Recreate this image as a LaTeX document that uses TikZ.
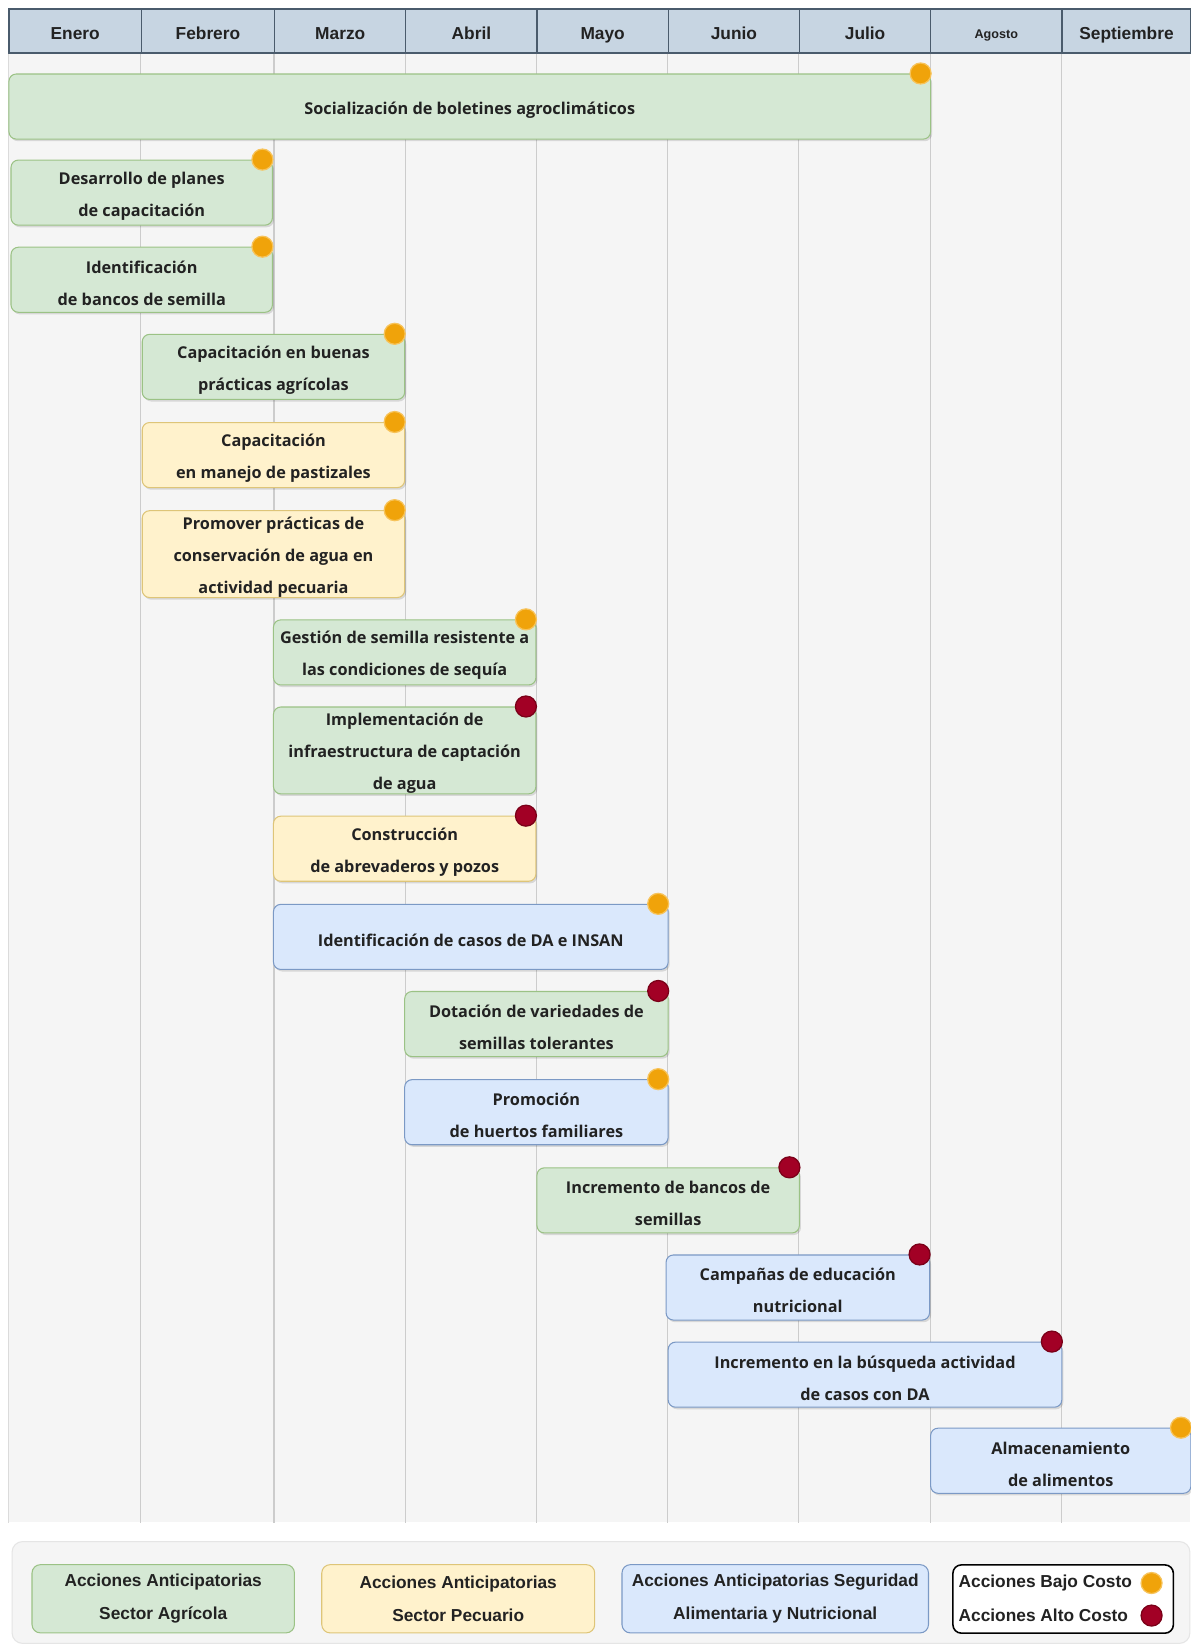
\documentclass[tikz,border=0pt]{standalone}
\usepackage{fontspec}
\setmainfont{Open Sans}
\newfontfamily\arialf{Liberation Sans}
\usetikzlibrary{shadows}
\definecolor{hdrfill}{HTML}{C7D5E2}
\definecolor{hdrline}{HTML}{4A5B6C}
\definecolor{bgc}{HTML}{F5F5F5}
\definecolor{gridc}{HTML}{CCCCCC}
\definecolor{gfill}{HTML}{D5E8D4}
\definecolor{gline}{HTML}{82B366}
\definecolor{yfill}{HTML}{FFF2CC}
\definecolor{yline}{HTML}{D6B656}
\definecolor{bfill}{HTML}{DAE8FC}
\definecolor{bline}{HTML}{6C8EBF}
\definecolor{ofill}{HTML}{F0A30A}
\definecolor{oline}{HTML}{F7C35A}
\definecolor{rfill}{HTML}{A20025}
\definecolor{rline}{HTML}{7A0018}
\definecolor{txt}{HTML}{222222}
\tikzset{
  softshadow/.style={general shadow={fill=black, opacity=0.12, shadow xshift=1.5pt, shadow yshift=-2pt}},
  taskbase/.style={rectangle, rounded corners=7pt, inner sep=0pt, align=center, text=txt,
    line width=1pt, softshadow, font=\fontsize{15.5}{30.5}\selectfont\bfseries},
  gbox/.style={taskbase, fill=gfill, draw=gline!80},
  ybox/.style={taskbase, fill=yfill, draw=yline!80},
  bbox/.style={taskbase, fill=bfill, draw=bline!90},
  lowc/.style={circle, fill=ofill, draw=oline, line width=1.2pt, minimum size=20pt, inner sep=0pt},
  highc/.style={circle, fill=rfill, draw=rline, line width=1.2pt, minimum size=20pt, inner sep=0pt},
  month/.style={rectangle, fill=hdrfill, draw=hdrline, line width=1.2pt, inner sep=0pt,
    minimum height=42pt, text height=18pt, text depth=2.5pt,
    font=\arialf\fontsize{16.5}{18}\selectfont\bfseries, text=txt},
  legbox/.style={rectangle, rounded corners=8pt, inner sep=0pt, align=center, text=txt,
    line width=1pt, minimum height=65pt, font=\arialf\fontsize{16.5}{31}\selectfont\bfseries},
  legtext/.style={anchor=west, inner sep=0pt, text=txt, font=\arialf\fontsize{16.5}{18}\selectfont\bfseries},
}
\newcommand\task[8]{%
  \node[#2, minimum width={#5-#3}, minimum height={#6-#4}, anchor=north west] (#1) at (#3,#4) {\rule{0pt}{18pt}#7};
  \node[#8] (#1dot) at ({#5-9},#4) {};}
\newcommand\mon[4]{%
  \node[month, minimum width={#3-#2}, anchor=north west] (#1) at (#2,8) {#4};}
\begin{document}
\begin{tikzpicture}[x=1pt,y=-1pt]
\useasboundingbox (0,0) rectangle (1134,1568);
\fill[white] (0,0) rectangle (1134,1568);
% chart background
\fill[bgc] (8,50) rectangle (1134,1450);
% header
\mon{m1}{8}{134}{Enero}
\mon{m2}{134}{261}{Febrero}
\mon{m3}{261}{386}{Marzo}
\mon{m4}{386}{511}{Abril}
\mon{m5}{511}{636}{Mayo}
\mon{m6}{636}{761}{Junio}
\mon{m7}{761}{886}{Julio}
\node[month, minimum width=125, anchor=north west, text height=15.5pt, text depth=2pt,
  font=\arialf\fontsize{12}{14}\selectfont\bfseries] (m8) at (886,8) {Agosto};
\mon{m9}{1011}{1134}{Septiembre}
% grid lines
\foreach \m in {m2,m3,m4,m5,m6,m7,m8,m9}
  \draw[gridc, line width=1pt] (\m.south west) -- ++(0,1400);
\draw[gridc!70, line width=0.8pt] (m1.south west) -- ++(0,1400);
% tasks
\task{t1}{gbox}{8}{70}{886}{132}{Socialización de boletines agroclimáticos}{lowc}
\task{t2}{gbox}{10}{152}{259}{214}{Desarrollo de planes\\de capacitación}{lowc}
\task{t3}{gbox}{10}{235}{259}{297}{Identificación\\de bancos de semilla}{lowc}
\task{t4}{gbox}{135}{318}{385}{380}{Capacitación en buenas\\prácticas agrícolas}{lowc}
\task{t5}{ybox}{135}{402}{385}{464}{Capacitación\\en manejo de pastizales}{lowc}
\task{t6}{ybox}{135}{486}{385}{568}{Promover prácticas de\\conservación de agua en\\actividad pecuaria}{lowc}
\task{t7}{gbox}{260}{590}{510}{652}{Gestión de semilla resistente a\\las condiciones de sequía}{lowc}
\task{t8}{gbox}{260}{673}{510}{755}{Implementación de\\infraestructura de captación\\de agua}{highc}
\task{t9}{ybox}{260}{777}{510}{839}{Construcción\\de abrevaderos y pozos}{highc}
\task{t10}{bbox}{260}{861}{636}{923}{Identificación de casos de DA e INSAN}{lowc}
\task{t11}{gbox}{385}{944}{636}{1006}{Dotación de variedades de\\semillas tolerantes}{highc}
\task{t12}{bbox}{385}{1028}{636}{1090}{Promoción\\de huertos familiares}{lowc}
\task{t13}{gbox}{511}{1112}{761}{1174}{Incremento de bancos de\\semillas}{highc}
\task{t14}{bbox}{634}{1195}{885}{1257}{Campañas de educación\\nutricional}{highc}
\task{t15}{bbox}{636}{1278}{1011}{1340}{Incremento en la búsqueda actividad\\de casos con DA}{highc}
\task{t16}{bbox}{886}{1360}{1134}{1422}{Almacenamiento\\de alimentos}{lowc}
% legend
\node[rectangle, rounded corners=10pt, fill=bgc, draw=black!10, line width=1pt,
  minimum width=1122, minimum height=97, anchor=north west, inner sep=0pt] (legend) at (11,1468) {};
\node[legbox, fill=gfill, draw=gline!80, minimum width=250, anchor=north west] (lg1) at (30,1490)
  {Acciones Anticipatorias\\Sector Agrícola};
\node[legbox, fill=yfill, draw=yline!80, minimum width=260, anchor=north west] (lg2) at (306,1490)
  {Acciones Anticipatorias\\Sector Pecuario};
\node[legbox, fill=bfill, draw=bline!90, minimum width=292, anchor=north west] (lg3) at (592,1490)
  {Acciones Anticipatorias Seguridad\\Alimentaria y Nutricional};
\node[legbox, fill=white, draw=black, line width=1.5pt, minimum width=210, anchor=north west] (lg4) at (907,1490) {};
\node[legtext] (lg4a) at (913,1508) {Acciones Bajo Costo};
\node[legtext] (lg4b) at (913,1539) {Acciones Alto Costo};
\node[lowc] (lg4ad) at (1097,1508) {};
\node[highc] (lg4bd) at (1097,1539) {};
\end{tikzpicture}
\end{document}
